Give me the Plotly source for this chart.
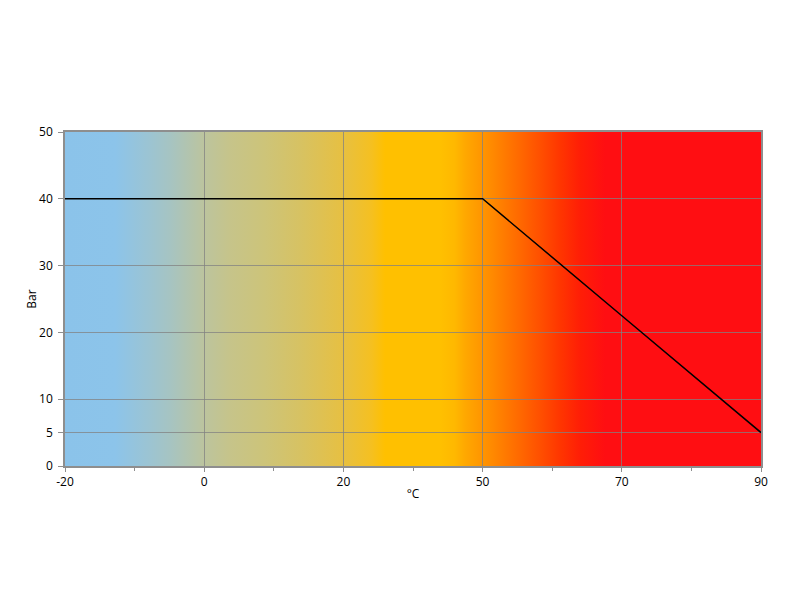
import base64
import plotly.graph_objects as go

# Temperature categories (evenly spaced on the chart) and allowed pressure
temps = ['-20', '0', '20', '50', '70', '90']
pressure = [40, 40, 40, 40, 22.5, 5]
y_ticks = [0, 5, 10, 20, 30, 40, 50]

# background gradient stops (fraction of plot width, colour)
grad_pos = [0.0, 0.072, 0.122, 0.151, 0.2, 0.237, 0.287, 0.339, 0.397, 0.44,
            0.46, 0.539, 0.56, 0.575, 0.601, 0.625, 0.654, 0.682, 0.711,
            0.74, 0.776, 1.0]
grad_col = ['#8BC3EA', '#8CC4EA', '#9CC4D2', '#A6C4C2', '#BCC49E', '#C6C48A',
            '#CDC479', '#D7C262', '#E6C043', '#F5C021', '#FFC000', '#FFC000',
            '#FFB800', '#FFA800', '#FF9400', '#FF8000', '#FF6800', '#FF5000',
            '#FF3600', '#FF1E06', '#FF0E12', '#FF0E12']

stops = ''.join("<stop offset='%s' stop-color='%s'/>" % (p, c)
                for p, c in zip(grad_pos, grad_col))
svg = ("<svg xmlns='http://www.w3.org/2000/svg' width='200' height='100' "
       "viewBox='0 0 200 100' preserveAspectRatio='none'><defs>"
       "<linearGradient id='g' x1='0' x2='1' y1='0' y2='0'>" + stops +
       "</linearGradient></defs><rect width='200' height='100' fill='url(#g)'/></svg>")
src = 'data:image/svg+xml;base64,' + base64.b64encode(svg.encode()).decode()

grey = '#8E8E8E'
grid = 'rgba(130,130,130,0.75)'

fig = go.Figure()
fig.add_trace(go.Scatter(x=temps, y=pressure, mode='lines',
                         line=dict(color='black', width=1.5),
                         showlegend=False, hoverinfo='skip'))
# empty trace so the overlay axis (used for the minor ticks) gets drawn
fig.add_trace(go.Scatter(x=[], y=[], xaxis='x2', showlegend=False))

fig.update_layout(
    width=800, height=600,
    margin=dict(l=57, r=47, t=124, b=142),
    paper_bgcolor='white',
    plot_bgcolor='rgba(0,0,0,0)',
    font=dict(family='Open Sans', size=12, color='black'),
    images=[dict(source=src, xref='paper', yref='paper', x=0, y=1,
                 sizex=1, sizey=1, sizing='stretch', xanchor='left',
                 yanchor='top', layer='below')],
    xaxis=dict(type='category', range=[0, len(temps) - 1],
               showline=True, linecolor=grey, linewidth=1.5, mirror=True,
               showgrid=True, gridcolor=grid, gridwidth=1,
               ticks='outside', ticklen=4, tickcolor=grey,
               title=dict(text='°C', standoff=0, font=dict(size=12))),
    xaxis2=dict(overlaying='x', anchor='y', side='bottom',
                range=[0, len(temps) - 1], showgrid=False, zeroline=False,
                showticklabels=False, ticks='',
                minor=dict(ticks='outside', ticklen=4, tickcolor=grey,
                           tick0=0.5, dtick=1, showgrid=False)),
    yaxis=dict(range=[0, 50], tickvals=y_ticks,
               showline=True, linecolor=grey, linewidth=1.5, mirror=True,
               showgrid=True, gridcolor=grid, gridwidth=1, zeroline=False,
               ticks='outside', ticklen=5, tickcolor=grey,
               ticklabelstandoff=3,
               title=dict(text='Bar', standoff=0, font=dict(size=12))),
)

fig.write_html('out.html')
